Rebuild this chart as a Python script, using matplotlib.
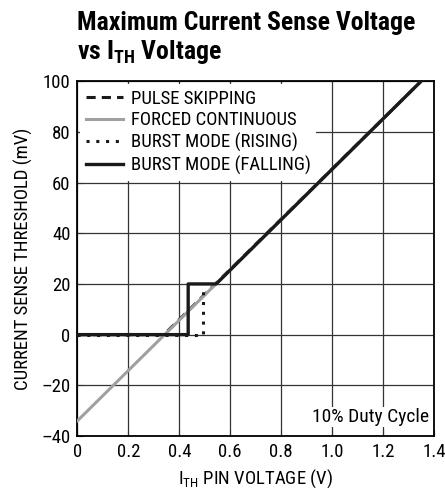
import matplotlib.pyplot as plt

plt.rcParams['font.family'] = ['Liberation Sans Narrow', 'Roboto Condensed', 'DejaVu Sans']
plt.rcParams['font.stretch'] = 'condensed'

# values (x in V, y in mV)
fc_x = [0.0, 1.35]
fc_y = [-34.0, 100.0]

ps_x = [0.0, 0.34, 1.35]
ps_y = [0.0, 0.0, 100.0]

rise_x = [0.0, 0.494, 0.494]
rise_y = [0.0, 0.0, 19.0]

fall_x = [0.0, 0.435, 0.435, 0.545, 1.35]
fall_y = [0.0, 0.0, 20.0, 20.0, 100.0]

xticks = [0, 0.2, 0.4, 0.6, 0.8, 1.0, 1.2, 1.4]
xlabels = ['0', '0.2', '0.4', '0.6', '0.8', '1.0', '1.2', '1.4']
yticks = [-40, -20, 0, 20, 40, 60, 80, 100]
ylabels = ['\u201340', '\u201320', '0', '20', '40', '60', '80', '100']

fig = plt.figure(figsize=(4.45, 4.98), dpi=100)
ax = fig.add_axes([0.174, 0.1245, 0.801, 0.7125])

ax.plot(ps_x, ps_y, color='#1a1a1a', lw=2.2, ls=(0, (3, 2)), label='PULSE SKIPPING', zorder=2)
ax.plot(fc_x, fc_y, color='#a0a0a0', lw=2.2, label='FORCED CONTINUOUS', zorder=3)
ax.plot(rise_x, rise_y, color='#1a1a1a', lw=2.2, ls=(0, (1, 2.2)), label='BURST MODE (RISING)', zorder=4)
ax.plot(fall_x, fall_y, color='#1a1a1a', lw=2.4, label='BURST MODE (FALLING)', zorder=5)

ax.set_xlim(0, 1.4)
ax.set_ylim(-40, 100)
ax.set_xticks(xticks)
ax.set_xticklabels(xlabels)
ax.set_yticks(yticks)
ax.set_yticklabels(ylabels)
ax.tick_params(direction='in', length=4, labelsize=13.5, color='#333333', pad=5)
ax.grid(True, color='#333333', lw=0.9)
ax.set_axisbelow(True)
for s in ax.spines.values():
    s.set_linewidth(1.3)

leg = ax.legend(loc='upper left', fontsize=13.5, handlelength=2.0, handletextpad=0.4,
                labelspacing=0.2, borderpad=0.3, borderaxespad=0.15, fancybox=False)
leg.get_frame().set_edgecolor('none')
leg.get_frame().set_alpha(1)

ax.text(1.38, -32.5, '10% Duty Cycle', fontsize=14, ha='right', va='center',
        bbox=dict(facecolor='white', edgecolor='none', pad=1), zorder=6)

ax.set_xlabel('I$_{\\mathregular{TH}}$ PIN VOLTAGE (V)', fontsize=13.5, labelpad=5)
ax.set_ylabel('CURRENT SENSE THRESHOLD (mV)', fontsize=13.5, labelpad=6)

fig.text(0.174, 0.977, 'Maximum Current Sense Voltage\nvs I$_{\\mathregular{TH}}$ Voltage',
         fontsize=18.5, fontweight='bold', ha='left', va='top', linespacing=1.12)

plt.savefig('out.png', dpi=100)
